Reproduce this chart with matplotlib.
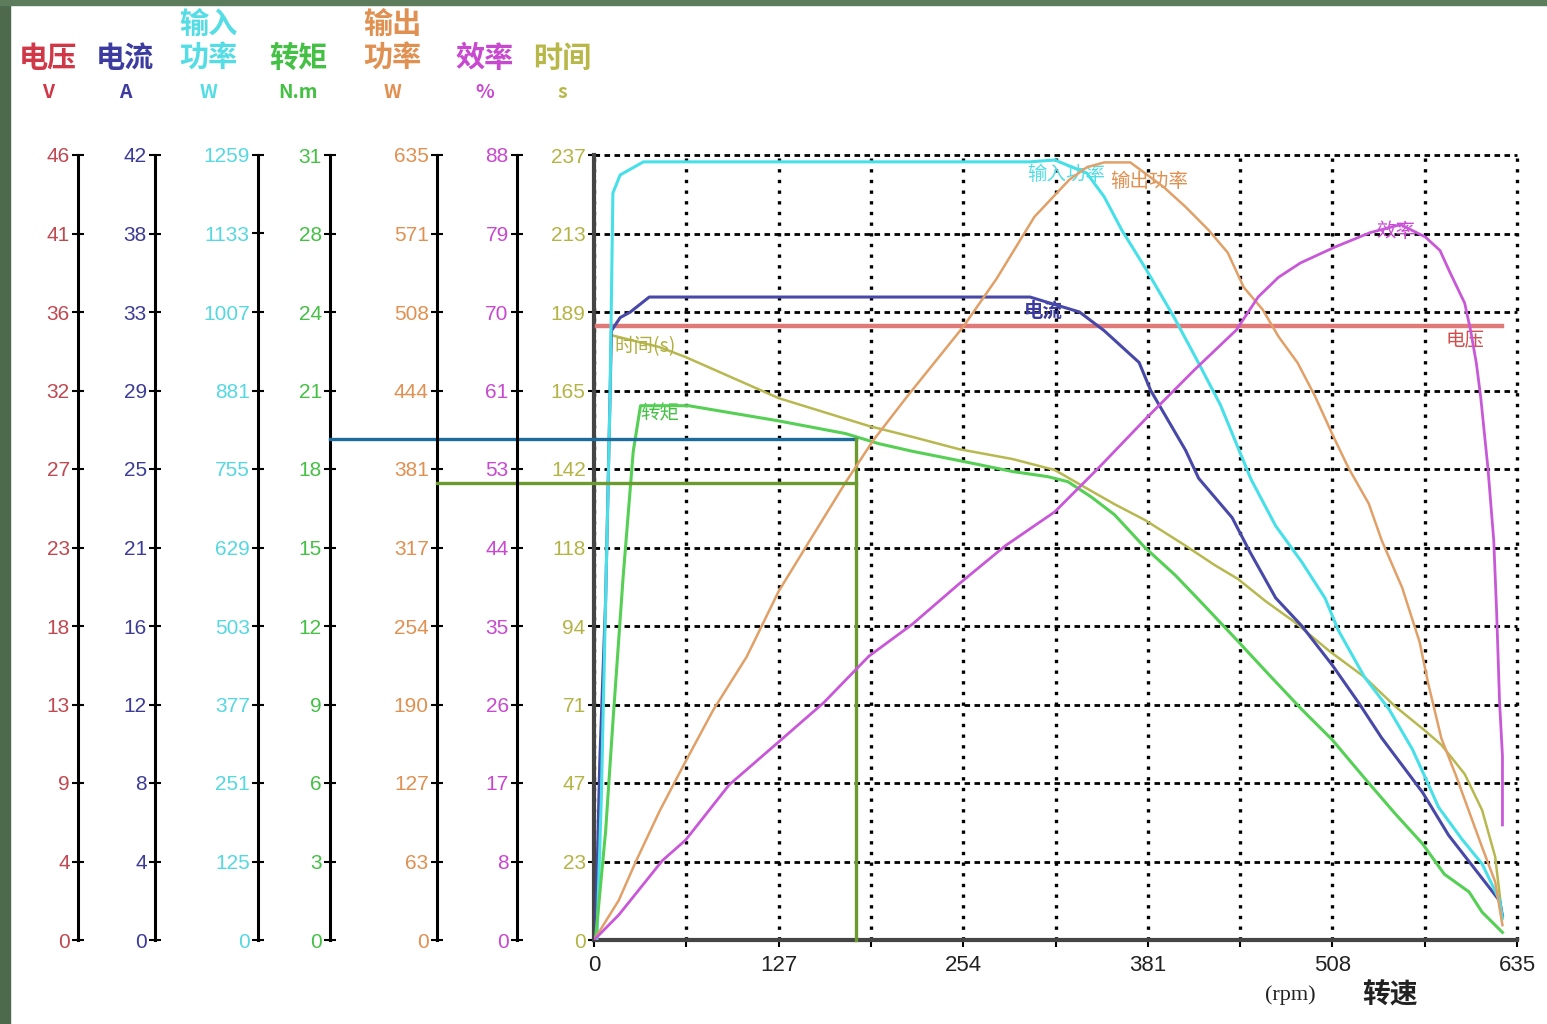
import numpy as np
import matplotlib
matplotlib.use('Agg')
import matplotlib.pyplot as plt
from matplotlib.patches import Rectangle

plt.rcParams['font.family'] = ['Liberation Sans', 'Noto Sans CJK SC', 'DejaVu Sans']

# ---- data ----
speed_max = 635
speed_tick_labels = ['0', '', '127', '', '254', '', '381', '', '508', '', '635']

volt_max = 46
volt_labels = ['0', '4', '9', '13', '18', '23', '27', '32', '36', '41', '46']
curr_max = 42
curr_labels = ['0', '4', '8', '12', '16', '21', '25', '29', '33', '38', '42']
pin_max = 1259
pin_labels = ['0', '125', '251', '377', '503', '629', '755', '881', '1007', '1133', '1259']
torq_max = 31
torq_labels = ['0', '3', '6', '9', '12', '15', '18', '21', '24', '28', '31']
pout_max = 635
pout_labels = ['0', '63', '127', '190', '254', '317', '381', '444', '508', '571', '635']
eff_max = 88
eff_labels = ['0', '8', '17', '26', '35', '44', '53', '61', '70', '79', '88']
time_max = 237
time_labels = ['0', '23', '47', '71', '94', '118', '142', '165', '189', '213', '237']

volt_rpm = [2, 625]
volt_val = [36, 36]

curr_rpm = [1, 4, 8, 12, 18, 25, 38, 300, 334, 351, 375, 383, 407, 416, 439, 451, 469,
            487, 508, 526, 542, 570, 588, 602, 623, 625]
curr_val = [0, 9.6, 18.2, 32.6, 33.3, 33.6, 34.4, 34.4, 33.6, 32.6, 30.9, 29.4, 26.2,
            24.7, 22.6, 20.8, 18.3, 16.8, 14.7, 12.7, 10.8, 7.9, 5.6, 4.2, 2.1, 1.3]

pin_rpm = [2, 5, 8, 11, 13, 18, 34, 300, 317, 339, 351, 363, 380, 399, 416, 431, 452,
           469, 487, 503, 512, 530, 547, 563, 572, 581, 597, 611, 623, 625]
pin_val = [0, 225, 545, 866, 1198, 1227, 1248, 1248, 1251, 1230, 1192, 1139, 1075, 999,
           925, 858, 739, 664, 606, 548, 497, 422, 370, 306, 260, 213, 162, 122, 64, 35]

torq_rpm = [1, 8, 13, 20, 27, 32, 65, 127, 173, 196, 219, 254, 288, 312, 326, 342, 358,
            379, 400, 420, 443, 464, 487, 508, 530, 551, 570, 585, 602, 611, 625]
torq_val = [0, 4.3, 8.6, 14.3, 19.3, 21.1, 21.1, 20.5, 20.0, 19.6, 19.3, 18.9, 18.5, 18.3,
            18.1, 17.5, 16.8, 15.5, 14.4, 13.2, 11.8, 10.5, 9.1, 7.9, 6.4, 5.0, 3.8, 2.6,
            1.9, 1.1, 0.3]

pout_rpm = [0, 17, 29, 45, 61, 82, 105, 127, 151, 173, 192, 215, 254, 277, 303, 327, 339,
            351, 369, 392, 407, 423, 436, 447, 460, 471, 484, 496, 508, 519, 533, 542, 556,
            568, 574, 583, 593, 602, 611, 620, 625]
pout_val = [0, 32, 64, 104, 140, 186, 229, 282, 328, 370, 404, 439, 496, 535, 585, 615, 625,
            629, 629, 609, 593, 574, 556, 528, 510, 488, 467, 440, 409, 382, 353, 323, 285,
            241, 207, 163, 133, 104, 75, 47, 12]

eff_rpm = [0, 17, 47, 63, 93, 127, 158, 189, 219, 251, 283, 317, 347, 380, 413, 442, 457,
           471, 486, 510, 534, 555, 572, 582, 589, 599, 603, 607, 610, 615, 619, 621, 623,
           625, 625]
eff_val = [0, 2.8, 8.9, 11.2, 17.4, 22.2, 26.6, 31.8, 35.4, 39.9, 44.2, 48.0, 52.9, 58.5,
           63.9, 68.4, 72.1, 74.3, 75.9, 77.7, 79.3, 80.2, 78.8, 77.3, 74.8, 71.4, 68.4,
           64.7, 60.9, 52.9, 44.8, 36.7, 26.7, 20.6, 12.9]

time_rpm = [12, 45, 63, 127, 189, 219, 251, 288, 317, 336, 358, 379, 405, 427, 443, 462,
            482, 506, 530, 551, 572, 583, 599, 611, 620, 625]
time_val = [182.6, 179.0, 176.0, 163.6, 155.2, 151.9, 148.2, 145.2, 141.9, 137.1, 131.6,
            126.8, 119.6, 113.2, 109.0, 102.3, 96.0, 87.2, 79.4, 70.6, 63.1, 58.9, 50.1,
            39.2, 25.1, 6.6]

# operating point marked with the helper lines
rated_speed = 180
rated_torque = 19.8
rated_power = 370

# ---- figure ----
W, H = 1547, 1024
fig = plt.figure(figsize=(W / 100, H / 100), dpi=100, facecolor='white')
fig.patches.append(Rectangle((0, 0), 10 / W, 1, transform=fig.transFigure,
                             color='#4d6a4d', zorder=0))
fig.patches.append(Rectangle((0, 1 - 5 / H), 1, 5 / H, transform=fig.transFigure,
                             color='#5c7c5c', zorder=0))

ax = fig.add_axes([594 / W, 84 / H, 923 / W, 785 / H])
ax.patch.set_alpha(0)
ax.set_xlim(0, speed_max)
ax.set_ylim(0, time_max)
ax.set_xticks(np.linspace(0, speed_max, 11))
ax.set_xticklabels(speed_tick_labels)
ax.set_yticks(np.linspace(0, time_max, 11))
ax.set_yticklabels(time_labels)
for s in ['top', 'right']:
    ax.spines[s].set_visible(False)
for s in ['left', 'bottom']:
    ax.spines[s].set_color('#454545')
    ax.spines[s].set_linewidth(3)
ax.tick_params(axis='x', direction='out', length=5, width=1.5, pad=6,
               labelsize=16, labelcolor='#222222')
ax.tick_params(axis='y', direction='inout', length=8, width=1.5, pad=2,
               labelsize=15, labelcolor='#b4b444')
ax.grid(True, axis='x', color='black', linestyle=(0, (1, 2.2)), linewidth=2.4)
ax.grid(True, axis='y', color='black', linestyle=(0, (2, 1.6)), linewidth=2.0)
for gl in ax.get_xgridlines() + ax.get_ygridlines():
    gl.set_clip_on(False)


def side_axis(pos, ymax, labels, color):
    a = ax.twinx()
    a.set_ylim(0, ymax)
    for s in ['top', 'right', 'bottom']:
        a.spines[s].set_visible(False)
    a.spines['left'].set_visible(True)
    a.spines['left'].set_position(('axes', pos))
    a.spines['left'].set_linewidth(2.2)
    a.yaxis.set_ticks_position('left')
    a.yaxis.set_label_position('left')
    a.set_yticks(np.linspace(0, ymax, 11))
    a.set_yticklabels(labels)
    a.tick_params(axis='y', direction='inout', length=8, width=1.5, pad=2,
                  labelsize=15, labelcolor=color)
    return a


ax_v = side_axis(-0.559, volt_max, volt_labels, '#c04850')
ax_c = side_axis(-0.4756, curr_max, curr_labels, '#3c3c96')
ax_p = side_axis(-0.364, pin_max, pin_labels, '#55d8e0')
ax_t = side_axis(-0.286, torq_max, torq_labels, '#44c044')
ax_o = side_axis(-0.1701, pout_max, pout_labels, '#e09050')
ax_e = side_axis(-0.0834, eff_max, eff_labels, '#c848d0')
for a in [ax_c, ax_p, ax_t, ax_o, ax_e]:
    a.spines['left'].set_color('black')

# ---- curves ----
ax.plot(time_rpm, time_val, color='#b8b850', lw=1.8)
ax_v.plot(volt_rpm, volt_val, color='#e07a78', lw=3.2)
ax_c.plot(curr_rpm, curr_val, color='#4848a8', lw=2.2)
ax_p.plot(pin_rpm, pin_val, color='#48e0e8', lw=2.2)
ax_t.plot(torq_rpm, torq_val, color='#55d055', lw=2.2)
ax_o.plot(pout_rpm, pout_val, color='#e0a068', lw=1.8)
ax_e.plot(eff_rpm, eff_val, color='#c858d8', lw=2.0)

# curve names inside the plot
cjk = ['Noto Sans CJK SC', 'DejaVu Sans']
ax.text(298, 231, '输入功率', color='#55dde5', fontsize=14, family=cjk, va='center')
ax.text(355, 229, '输出功率', color='#e09050', fontsize=14, family=cjk, va='center')
ax.text(538, 214, '效率', color='#c848d0', fontsize=14, family=cjk, va='center')
ax.text(296, 190, '电流', color='#3c3ca0', fontsize=14, family=cjk, va='center',
        weight='bold')
ax.text(586, 181, '电压', color='#d05050', fontsize=14, family=cjk, va='center')
ax.text(14, 179, '时间(s)', color='#b0b040', fontsize=14, family=cjk, va='center')
ax.text(32, 159, '转矩', color='#44c044', fontsize=14, family=cjk, va='center')

# helper lines marking the operating point
ax_t.plot([-0.286 * speed_max, rated_speed], [rated_torque, rated_torque],
          color='#1b6c9c', lw=2.4, clip_on=False, zorder=10)
ax_o.plot([-0.1701 * speed_max, rated_speed], [rated_power, rated_power],
          color='#6b9b2f', lw=2.4, clip_on=False, zorder=10)
ax_t.plot([rated_speed, rated_speed], [0, rated_torque],
          color='#6b9b2f', lw=2.4, clip_on=False, zorder=10)

# ---- column headers ----
heads = [
    (48, ['电压', 'V'], '#d03848'),
    (125, ['电流', 'A'], '#3c3ca0'),
    (208, ['输入', '功率', 'W'], '#55dde5'),
    (298, ['转矩', 'N.m'], '#44c044'),
    (392, ['输出', '功率', 'W'], '#e09050'),
    (485, ['效率', '%'], '#c848d0'),
    (562, ['时间', 's'], '#b8b848'),
]
for x, lines, col in heads:
    ys = [92, 58, 25][:len(lines)][::-1]
    for txt, y in zip(lines, ys):
        size = 21 if y < 80 else 14
        fig.text(x / W, 1 - y / H, txt, color=col, fontsize=size, family=cjk,
                 ha='center', va='center', weight='bold')

fig.text(1290 / W, 1 - 995 / H, '(rpm)', fontsize=16, ha='center', va='center',
         color='#222222', family=['Liberation Serif', 'DejaVu Serif'])
fig.text(1390 / W, 1 - 995 / H, '转速', fontsize=20, ha='center', va='center',
         color='#222222', family=cjk, weight='bold')

fig.savefig('out.png', dpi=100, facecolor=fig.get_facecolor())
